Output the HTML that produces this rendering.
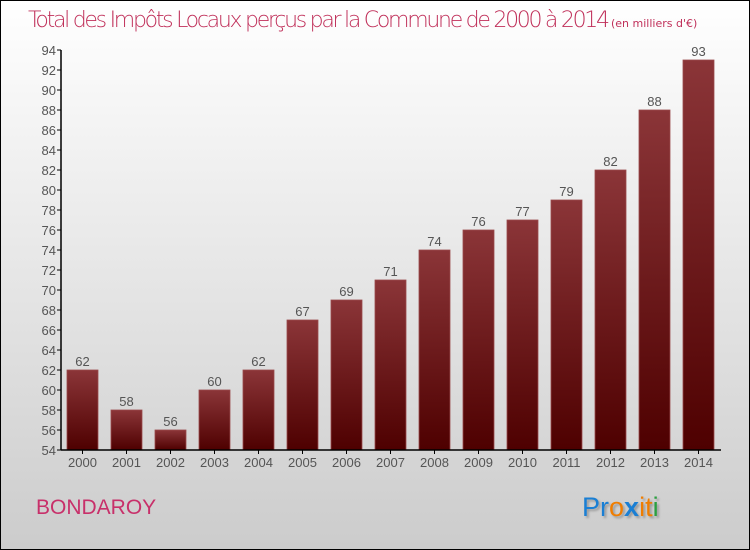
<!DOCTYPE html>
<html><head><meta charset="utf-8"><style>
html,body{margin:0;padding:0}
body{width:750px;height:550px;overflow:hidden;font-family:"DejaVu Sans","Liberation Sans",sans-serif}
#wrap{position:absolute;left:0;top:0;width:748px;height:548px;border:1px solid #000;background:linear-gradient(#ffffff,#e6e6e6 50%,#cccccc)}
</style></head><body>
<div id="wrap">
<svg width="750" height="550" style="position:absolute;left:-1px;top:-1px">
<defs><linearGradient id="bg" x1="0" y1="0" x2="0" y2="1"><stop offset="0" stop-color="#8b3538"/><stop offset="1" stop-color="#4e0000"/></linearGradient></defs>
<text x="28" y="27" font-size="22" fill="#c0305a" font-family="DejaVu Sans,sans-serif" font-weight="200" textLength="582">Total des Impôts Locaux perçus par la Commune de 2000 à 2014</text>
<text x="611" y="27" font-size="11" fill="#c0305a">(en milliers d'€)</text>
<g id="yaxis"></g>
<g id="bars"></g>
<g id="xaxis"></g>
<text x="36" y="514" font-size="21" fill="#c8306a" font-family="Liberation Sans,sans-serif">BONDAROY</text>
<g font-size="27" font-family="Liberation Sans,sans-serif" style="text-shadow:2px 2px 2px #999">
<text x="582" y="516"><tspan fill="#1a7fd4">Pr</tspan><tspan fill="#f07d00">o</tspan><tspan fill="#1a7fd4" font-weight="bold">x</tspan><tspan fill="#f07d00">i</tspan><tspan fill="#f07d00">t</tspan><tspan fill="#2aa040">i</tspan></text>
</g>
</svg></div>
<script>
const years=["2000","2001","2002","2003","2004","2005","2006","2007","2008","2009","2010","2011","2012","2013","2014"];
const values=[62,58,56,60,62,67,69,71,74,76,77,79,82,88,93];
const yTicks=[54,56,58,60,62,64,66,68,70,72,74,76,78,80,82,84,86,88,90,92,94];
const NS="http://www.w3.org/2000/svg";
const y=v=>450-(v-54)*10;
const x=i=>67+44*i;
function mk(t,a,p){const e=document.createElementNS(NS,t);for(const k in a)e.setAttribute(k,a[k]);p.appendChild(e);return e;}
const ya=document.getElementById('yaxis'),ba=document.getElementById('bars'),xa=document.getElementById('xaxis');
const F='Liberation Sans,sans-serif';
mk('line',{x1:61,y1:50,x2:61,y2:450,stroke:'#000','stroke-width':1.5},ya);
yTicks.forEach(v=>{mk('line',{x1:57,y1:y(v),x2:61,y2:y(v),stroke:'#000'},ya);
const t=mk('text',{x:56,y:y(v)+5,'text-anchor':'end','font-size':13,fill:'#555','font-family':F},ya);t.textContent=v;

});
mk('line',{x1:61,y1:450,x2:721,y2:450,stroke:'#000','stroke-width':1.5},xa);
values.forEach((v,i)=>{
const r=mk('rect',{x:x(i),y:y(v),width:31,height:450-y(v),fill:'url(#bg)',stroke:'#9a4a4c','stroke-width':0.8},ba);


const l=mk('text',{x:x(i)+15.5,y:y(v)-4,'text-anchor':'middle','font-size':13,fill:'#555','font-family':F},ba);l.textContent=v;


mk('line',{x1:x(i)+15.5,y1:450,x2:x(i)+15.5,y2:454,stroke:'#000'},xa);
const yl=mk('text',{x:x(i)+15.5,y:467,'text-anchor':'middle','font-size':13,fill:'#555','font-family':F},xa);yl.textContent=years[i];


});
</script>
</body></html>
